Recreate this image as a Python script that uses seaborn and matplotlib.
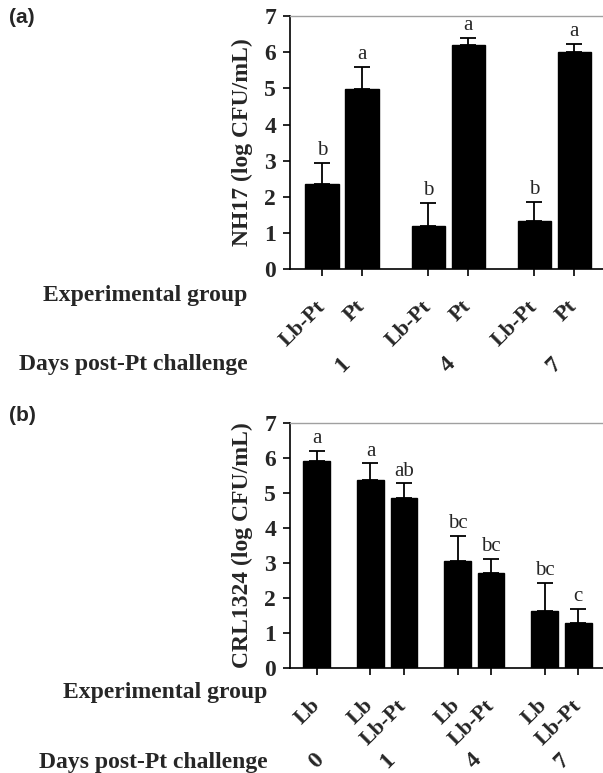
import numpy as np
import pandas as pd
import matplotlib
matplotlib.use('Agg')
import matplotlib.pyplot as plt
import matplotlib.transforms as mtransforms
import seaborn as sns

# panel (a): NH17 counts
days_a = ['1', '1', '4', '4', '7', '7']
groups_a = ['Lb-Pt', 'Pt', 'Lb-Pt', 'Pt', 'Lb-Pt', 'Pt']
means_a = [2.35, 4.98, 1.20, 6.19, 1.34, 6.00]
errs_a = [0.59, 0.62, 0.62, 0.22, 0.52, 0.23]
letters_a = ['b', 'a', 'b', 'a', 'b', 'a']

# panel (b): CRL1324 counts
days_b = ['0', '1', '1', '4', '4', '7', '7']
groups_b = ['Lb', 'Lb', 'Lb-Pt', 'Lb', 'Lb-Pt', 'Lb', 'Lb-Pt']
means_b = [5.90, 5.36, 4.86, 3.05, 2.70, 1.63, 1.27]
errs_b = [0.29, 0.48, 0.41, 0.73, 0.41, 0.80, 0.42]
letters_b = ['a', 'a', 'ab', 'bc', 'bc', 'bc', 'c']

sns.set_theme(style='ticks')
plt.rcParams['font.family'] = ['Liberation Serif', 'DejaVu Serif']


def bar_positions(days, gap):
    # bars of the same day sit next to each other, days are separated by a gap
    pos = []
    x = 0.0
    for i, d in enumerate(days):
        if i > 0:
            x += 1.0 if d == days[i - 1] else gap
        pos.append(x)
    return np.array(pos)


def draw_panel(ax, days, groups, means, errs, letters, gap, width, xlim, ylabel):
    pos = bar_positions(days, gap)
    df = pd.DataFrame({'pos': pos, 'mean': means})
    sns.barplot(data=df, x='pos', y='mean', native_scale=True, width=width,
                color='black', saturation=1, edgecolor='black',
                errorbar=None, ax=ax)
    ax.errorbar(pos, means, yerr=[np.zeros(len(errs)), errs], fmt='none',
                ecolor='black', elinewidth=1.3, capsize=5.5, capthick=1.3)
    for p, m, e, lt in zip(pos, means, errs, letters):
        ax.text(p, m + e + 0.08, lt, ha='center', va='bottom',
                fontsize=15, fontweight='normal')

    ax.set_xlim(*xlim)
    ax.set_ylim(0, 7)
    ax.set_yticks(range(0, 8))
    ax.set_xticks(pos)
    ax.set_xticklabels(groups, rotation=45, ha='right', va='center',
                       rotation_mode='anchor', fontsize=16, fontweight='bold')
    for lab in ax.get_yticklabels():
        lab.set_fontweight('bold')
    ax.tick_params(axis='y', length=5, width=1.2, labelsize=17, pad=5,
                   color='black')
    ax.tick_params(axis='x', length=5, width=1.2, pad=20, color='black')
    ax.set_xlabel('')
    ax.set_ylabel(ylabel, fontsize=17, fontweight='bold', labelpad=8)

    ax.spines['right'].set_visible(False)
    ax.spines['top'].set_color('#a0a0a0')
    ax.spines['top'].set_linewidth(1.0)
    for s in ['left', 'bottom']:
        ax.spines[s].set_color('black')
        ax.spines[s].set_linewidth(1.2)

    # day numbers under each group
    trans = mtransforms.blended_transform_factory(ax.transData, ax.transAxes)
    for d in dict.fromkeys(days):
        c = pos[[i for i, dd in enumerate(days) if dd == d]].mean()
        ax.text(c, -0.38, d, transform=trans, rotation=45, ha='center',
                va='center', fontsize=17, fontweight='bold', clip_on=False)


fig = plt.figure(figsize=(6.03, 7.73), dpi=100)

ax_a = fig.add_axes([0.481, 0.652, 0.519, 0.327])
draw_panel(ax_a, days_a, groups_a, means_a, errs_a, letters_a,
           gap=1.65, width=0.83, xlim=(-0.8, 7.02),
           ylabel='NH17 (log CFU/mL)')

ax_b = fig.add_axes([0.481, 0.136, 0.519, 0.317])
draw_panel(ax_b, days_b, groups_b, means_b, errs_b, letters_b,
           gap=1.6, width=0.8, xlim=(-0.8, 8.54),
           ylabel='CRL1324 (log CFU/mL)')

# row titles on the left
fig.text(0.41, 0.618, 'Experimental group', ha='right', va='center',
         fontsize=17, fontweight='bold')
fig.text(0.41, 0.528, 'Days post-Pt challenge', ha='right', va='center',
         fontsize=17, fontweight='bold')
fig.text(0.443, 0.1035, 'Experimental group', ha='right', va='center',
         fontsize=17, fontweight='bold')
fig.text(0.443, 0.0142, 'Days post-Pt challenge', ha='right', va='center',
         fontsize=17, fontweight='bold')

# panel tags
fig.text(0.015, 0.977, '(a)', ha='left', va='center', fontsize=15,
         fontweight='bold', family=['Liberation Sans', 'DejaVu Sans'])
fig.text(0.015, 0.463, '(b)', ha='left', va='center', fontsize=15,
         fontweight='bold', family=['Liberation Sans', 'DejaVu Sans'])

fig.savefig('out.png', dpi=100)
